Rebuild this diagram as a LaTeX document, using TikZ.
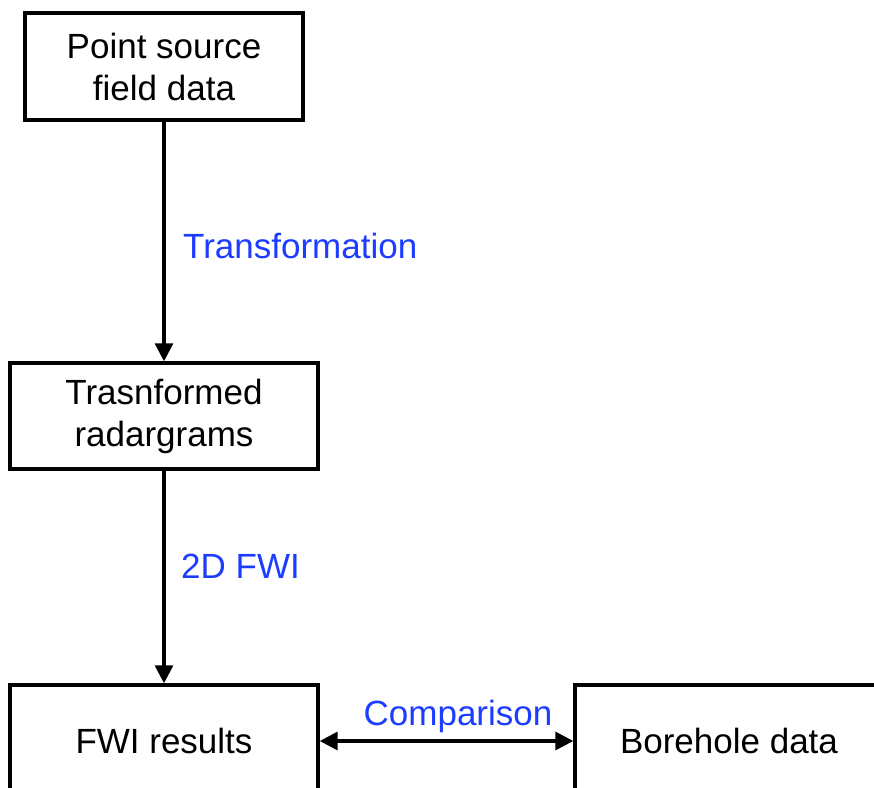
\documentclass[tikz,border=0pt]{standalone}
\usepackage{fontspec}
\setmainfont{Liberation Sans}
\usetikzlibrary{arrows.meta}
\definecolor{labelblue}{RGB}{28,60,255}
\tikzset{
  box/.style={draw=black, line width=3.4pt, fill=white, align=center,
    font=\fontsize{35}{42}\selectfont, inner sep=0pt},
  flow/.style={line width=3.2pt, -{Triangle[length=18pt,width=18pt]}},
  both/.style={line width=3.2pt, {Triangle[length=18pt,width=18pt]}-{Triangle[length=18pt,width=18pt]}},
  lbl/.style={text=labelblue, font=\fontsize{35}{42}\selectfont, inner sep=0pt}
}
\begin{document}
\begin{tikzpicture}[x=1pt, y=-1pt]
  \path[use as bounding box] (0,0) rectangle (874,787);
  \clip (0,0) rectangle (874,787);

  \node[box, minimum width=278pt, minimum height=107pt] (src) at (164,66.5) {Point source\\field data};
  \node[box, minimum width=308pt, minimum height=106pt] (trf) at (164,416) {Trasnformed\\radargrams};
  \node[box, minimum width=308pt, minimum height=112pt] (fwi) at (164,741) {FWI results};
  \node[box, minimum width=308pt, minimum height=112pt] (bh) at (729,741) {Borehole data};

  \draw[flow] (src.south) -- (trf.north);
  \draw[flow] (trf.south) -- (fwi.north);
  \draw[both] (fwi.east) -- (bh.west);

  \node[lbl, anchor=west] (t1) at (183,246) {Transformation};
  \node[lbl, anchor=west] (t2) at (181,566) {2D FWI};
  \node[lbl] (t3) at (458,716) {Comparison};
\end{tikzpicture}
\end{document}
